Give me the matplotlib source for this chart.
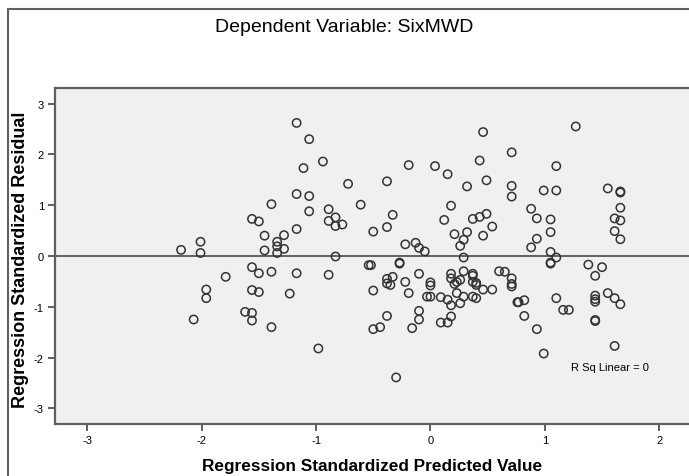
import matplotlib
matplotlib.use('Agg')
import matplotlib.pyplot as plt
from matplotlib.patches import Rectangle

plt.rcParams['font.family'] = ['Liberation Sans', 'DejaVu Sans']
plt.rcParams['axes.unicode_minus'] = False  # 刻度用普通连字符

# 标准化预测值 (x) 与标准化残差 (y)
pred = [-2.18, -2.01, -2.01, -1.96, -1.96, -2.07,
        -1.17, -1.06, -0.94, -1.11, -0.72, -0.61, -1.17, -1.06, -1.39, -1.06,
        -0.89, -1.56, -1.50, -0.89, -0.83, -0.83, -0.77, -1.17, -1.45, -1.28,
        -1.34, -1.34, -1.28, -1.45, -1.34, -0.83,
        -0.54, -1.79, -1.56, -1.50, -1.39, -1.17, -0.89, -1.56, -1.50, -1.23,
        -1.62, -1.56, -1.56, -1.39, -0.98,
        0.46, 0.71, 0.43, -0.19, 0.04, 0.15, -0.38, 0.49, 0.32, 0.71, 0.71,
        0.18, -0.33, 0.12, 0.37, 0.43, 0.49, -0.38, 0.54, -0.50, 0.21, 0.32,
        0.46, 0.29, 0.26, -0.22, -0.13, -0.10, -0.05, 0.29,
        -0.52, -0.27, -0.27, -0.38, -0.33, -0.38, -0.35, -0.50, -0.22, -0.10,
        -0.19, 0.00, 0.00, -0.03, 0.00, 0.09, 0.15, 0.18, 0.18, 0.18, 0.29,
        0.21, 0.23, 0.26, 0.37, 0.37, 0.37, 0.40, 0.40, 0.23, 0.29, 0.26,
        0.37, 0.40, 0.46, 0.54, 0.60, 0.65, 0.71, 0.71, 0.71, 0.76, -0.10,
        -0.10, -0.38, -0.50, -0.44, -0.16, 0.09, 0.15, 0.18, -0.30,
        1.27, 1.10, 0.99, 1.10, 1.55, 1.66, 1.66, 1.66, 1.61, 1.66, 1.61,
        1.66, 0.88, 0.93, 1.05, 1.05, 0.93, 0.88, 1.05, 1.10,
        1.05, 1.05, 1.38, 1.50, 1.44, 0.77, 0.82, 0.82, 0.93, 0.99, 1.10,
        1.16, 1.21, 1.44, 1.44, 1.44, 1.44, 1.44, 1.55, 1.61, 1.66, 1.61]

resid = [0.12, 0.28, 0.06, -0.66, -0.83, -1.25,
         2.62, 2.30, 1.86, 1.73, 1.42, 1.01, 1.22, 1.18, 1.02, 0.88,
         0.92, 0.73, 0.68, 0.69, 0.76, 0.59, 0.62, 0.53, 0.40, 0.41,
         0.28, 0.19, 0.14, 0.11, 0.06, -0.01,
         -0.18, -0.41, -0.22, -0.34, -0.31, -0.34, -0.37, -0.67, -0.71, -0.74,
         -1.10, -1.12, -1.27, -1.40, -1.82,
         2.44, 2.04, 1.88, 1.79, 1.77, 1.61, 1.47, 1.49, 1.37, 1.38, 1.17,
         0.99, 0.81, 0.71, 0.73, 0.77, 0.83, 0.57, 0.58, 0.48, 0.43, 0.47,
         0.40, 0.32, 0.20, 0.23, 0.26, 0.16, 0.09, -0.03,
         -0.18, -0.13, -0.15, -0.45, -0.41, -0.54, -0.57, -0.68, -0.51, -0.35,
         -0.73, -0.52, -0.58, -0.80, -0.80, -0.81, -0.86, -0.97, -0.35, -0.44, -0.30,
         -0.55, -0.51, -0.47, -0.35, -0.39, -0.51, -0.53, -0.57, -0.73, -0.80, -0.93,
         -0.80, -0.83, -0.66, -0.66, -0.30, -0.31, -0.44, -0.55, -0.60, -0.91, -1.08,
         -1.25, -1.18, -1.44, -1.40, -1.42, -1.31, -1.31, -1.19, -2.39,
         2.55, 1.77, 1.29, 1.29, 1.33, 1.27, 1.25, 0.95, 0.74, 0.70, 0.49,
         0.33, 0.93, 0.74, 0.72, 0.47, 0.34, 0.17, 0.08, -0.03,
         -0.13, -0.15, -0.17, -0.22, -0.39, -0.91, -0.87, -1.18, -1.44, -1.92, -0.83,
         -1.06, -1.06, -0.78, -0.85, -0.90, -1.26, -1.28, -0.73, -0.83, -0.95, -1.77]

yticks = [-3, -2, -1, 0, 1, 2, 3]
xticks = [-3, -2, -1, 0, 1, 2]

fig = plt.figure(figsize=(6.89, 4.77), dpi=100)
fig.patch.set_facecolor('white')

# 外框
fig.add_artist(Rectangle((8 / 689, -0.1), 2, 1.1 - 10 / 477, transform=fig.transFigure,
                         fill=False, edgecolor='#606060', linewidth=1.5))

ax = fig.add_axes([55 / 689, 52 / 477, 1.02 - 55 / 689, 336 / 477])
ax.set_facecolor('#F0F0F0')

ax.scatter(pred, resid, s=36, facecolors='none', edgecolors='#333333', linewidths=1.1, zorder=3)
ax.axhline(0, color='#555555', linewidth=1.3, zorder=2)

ax.set_xlim(-3.282, -3.282 + (689 * 1.02 - 55) / 114.4)
ax.set_ylim(-3.307, 3.307)
ax.set_xticks(xticks)
ax.set_yticks(yticks)
ax.tick_params(direction='out', length=5, width=1.2, color='#444444', labelsize=8, pad=3)

for side in ['left', 'bottom', 'top']:
    ax.spines[side].set_color('#606060')
    ax.spines[side].set_linewidth(1.6)
ax.spines['right'].set_visible(False)

ax.text(1.57, -2.19, 'R Sq Linear = 0', fontsize=8, ha='center', va='center')

fig.text(344 / 689, 1 - 28 / 477, 'Dependent Variable: SixMWD', fontsize=14,
         ha='center', va='center')
fig.text(372 / 689, 1 - 467 / 477, 'Regression Standardized Predicted Value', fontsize=12.4,
         fontweight='bold', ha='center', va='center')
fig.text(21 / 689, 1 - 260 / 477, 'Regression Standardized Residual', fontsize=13,
         fontweight='bold', ha='center', va='center', rotation=90)

fig.savefig('out.png', dpi=100)
